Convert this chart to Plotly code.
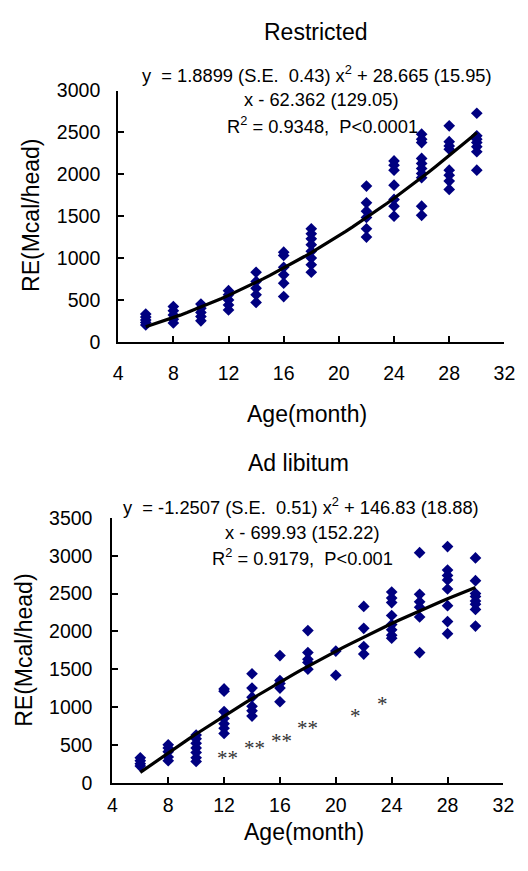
import numpy as np
import plotly.graph_objects as go

W, H = 528, 871

# ---- data ----
restricted_ages = [6, 8, 10, 12, 14, 16, 18, 22, 24, 26, 28, 30]
restricted_re = [
    [330, 295, 260, 230, 200],
    [420, 370, 320, 270, 225],
    [450, 400, 350, 300, 250],
    [610, 560, 500, 440, 380],
    [830, 720, 640, 560, 470],
    [1070, 1030, 890, 800, 700, 540],
    [1350, 1290, 1230, 1160, 1080, 1000, 920, 830],
    [1860, 1660, 1560, 1485, 1350, 1250],
    [2160, 2110, 2050, 1870, 1700, 1620, 1500],
    [2480, 2420, 2380, 2190, 2130, 2070, 2010, 1960, 1620, 1510],
    [2580, 2390, 2340, 2300, 2050, 1990, 1920, 1820],
    [2730, 2460, 2420, 2380, 2330, 2270, 2050],
]
restricted_coef = [1.8899, 28.665, -62.362]   # quadratic trendline as printed

adlib_ages = [6, 8, 10, 12, 14, 16, 18, 20, 22, 24, 26, 28, 30]
adlib_re = [
    [330, 290, 250, 220],
    [500, 460, 410, 340, 290],
    [630, 580, 520, 460, 400, 330, 280],
    [1240, 1210, 940, 850, 780, 720, 650],
    [1440, 1250, 1130, 1010, 950, 880],
    [1680, 1350, 1310, 1250, 1070],
    [2010, 1720, 1630, 1590, 1500],
    [1740, 1420],
    [2330, 2040, 1800, 1700],
    [2520, 2440, 2380, 2210, 2090, 2020, 1950, 1910],
    [3040, 2490, 2390, 2320, 2190, 1720],
    [3120, 2810, 2740, 2680, 2560, 2340, 2130, 1970],
    [2970, 2670, 2500, 2460, 2400, 2360, 2290, 2070],
]
adlib_coef = [-1.2507, 146.83, -699.93]

sig_x = [12.27, 14.19, 16.14, 17.94, 21.4, 23.37]
sig_y = [386, 524, 623, 786, 953, 1104]
sig_txt = ["**", "**", "**", "**", "*", "*"]

x_ticks = [4, 8, 12, 16, 20, 24, 28, 32]
top_y_ticks = [0, 500, 1000, 1500, 2000, 2500, 3000]
bot_y_ticks = [0, 500, 1000, 1500, 2000, 2500, 3000, 3500]


def flatten(ages, vals):
    xs, ys = [], []
    for a, v in zip(ages, vals):
        xs += [a] * len(v)
        ys += v
    return xs, ys


def px(x):
    return x / W


def py(y):
    return 1 - y / H


NAVY = "#000080"
FONT = "Liberation Sans"

fig = go.Figure()

for i, (ages, vals, coef) in enumerate(
        [(restricted_ages, restricted_re, restricted_coef),
         (adlib_ages, adlib_re, adlib_coef)]):
    xa = "x" if i == 0 else "x2"
    ya = "y" if i == 0 else "y2"
    xs, ys = flatten(ages, vals)
    fig.add_trace(go.Scatter(
        x=xs, y=ys, mode="markers", xaxis=xa, yaxis=ya,
        marker=dict(symbol="diamond", size=9, color=NAVY, line=dict(width=0)),
        showlegend=False, hoverinfo="x+y"))
    fx = np.linspace(min(ages), max(ages), 49)
    fy = np.polyval(coef, fx)
    fig.add_trace(go.Scatter(
        x=fx, y=fy, mode="lines", xaxis=xa, yaxis=ya,
        line=dict(color="black", width=3.2),
        showlegend=False, hoverinfo="skip"))

axis_common = dict(
    showline=True, linecolor="black", linewidth=2,
    ticks="inside", ticklen=6, tickwidth=1.5, tickcolor="black",
    showgrid=False, zeroline=False,
    tickfont=dict(family=FONT, size=19.5, color="black"),
)

fig.update_layout(
    width=W, height=H,
    margin=dict(l=0, r=0, t=0, b=0),
    plot_bgcolor="white", paper_bgcolor="white",
    font=dict(family=FONT, color="black"),
    xaxis=dict(domain=[px(116.7), px(515)], range=[4, 32], tickvals=x_ticks,
               anchor="y", ticklabelstandoff=13, **axis_common),
    yaxis=dict(domain=[py(339.3), py(81.7)], range=[0, 3000], tickvals=top_y_ticks,
               anchor="x", ticklabelstandoff=12, **axis_common),
    xaxis2=dict(domain=[px(110.7), px(514)], range=[4, 32], tickvals=x_ticks,
                anchor="y2", ticklabelstandoff=4, **axis_common),
    yaxis2=dict(domain=[py(791.7), py(520)], range=[0, 3500], tickvals=bot_y_ticks,
                anchor="x2", ticklabelstandoff=14, **axis_common),
)

ann = []


def text(x, y, s, size, angle=0, family=FONT, color="black"):
    ann.append(dict(x=px(x), y=py(y), xref="paper", yref="paper", text=s,
                    showarrow=False, xanchor="center", yanchor="middle",
                    textangle=angle, font=dict(family=family, size=size, color=color)))


# titles
text(321, 21.7, "Restricted", 23)
text(303, 463.3, "Ad libitum", 23)
text(311, 413.3, "Age(month)", 23)
text(308, 842, "Age(month)", 23)
text(26, 210, "RE(Mcal/head)", 23, angle=-90)
text(20, 656, "RE(Mcal/head)", 23, angle=-90)

# equations
text(322, 65, "y  = 1.8899 (S.E.  0.43) x<sup>2</sup> + 28.665 (15.95)", 18.3)
text(326, 90.7, "x - 62.362 (129.05)", 18.3)
text(327, 116.7, "R<sup>2</sup> = 0.9348,  P<0.0001", 18.3)
text(305, 508.3, "y  = -1.2507 (S.E.  0.51) x<sup>2</sup> + 146.83 (18.88)", 18.3)
text(306, 535, "x - 699.93 (152.22)", 18.3)
text(307, 560, "R<sup>2</sup> = 0.9179,  P<0.001", 18.3)

for sx, sy, st in zip(sig_x, sig_y, sig_txt):
    ann.append(dict(x=sx, y=sy, xref="x2", yref="y2", text=st, showarrow=False,
                    xanchor="center", yanchor="middle", yshift=-5,
                    font=dict(family="Liberation Serif", size=21, color="#333333")))

fig.update_layout(annotations=ann)
fig.write_html("out.html",
               config={"displayModeBar": False},
               post_script="document.body.style.margin='0';document.body.style.overflow='hidden';")
